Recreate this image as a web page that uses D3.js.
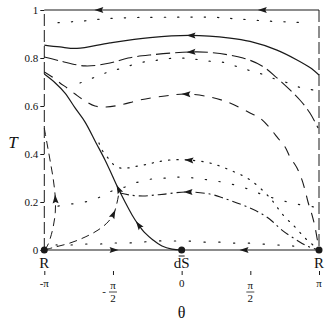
<!DOCTYPE html>
<html>
<head>
<meta charset="utf-8">
<script src="https://cdn.jsdelivr.net/npm/d3@7"></script>
<style>
  body { margin: 0; background: #fff; }
  text { font-family: "Liberation Serif", "Times New Roman", serif; fill: #111; }
</style>
</head>
<body>
<svg id="chart" width="327" height="327"></svg>
<script>
// theta values are in units of pi, T is the vertical variable
const thetaTicks = [-1, -0.5, 0, 0.5, 1];
const tTicks = [0, 0.2, 0.4, 0.6, 0.8, 1];
const tTickLabels = ["0", "0.2", "0.4", "0.6", "0.8", "1"];

const topEdge = [[-1, 1], [-0.61, 1], [0.58, 1], [1, 1]];
const bottomEdge = [[-1, 0], [-0.485, 0], [0, 0], [0.447, 0], [1, 0]];
const leftEdge = [[-1, 0], [-1, 1]];
const rightEdge = [[1, 1], [1, 0]];

const topDotted = [[-0.90, 0.947], [-0.798, 0.951], [-0.703, 0.955], [-0.609, 0.961], [-0.522, 0.965],
  [-0.303, 0.969], [-0.012, 0.97], [0.221, 0.97], [0.410, 0.9625], [0.621, 0.954], [0.825, 0.949], [0.920, 0.945]];

const solidUpper = [[-1, 0.854], [-0.886, 0.846], [-0.762, 0.840], [-0.522, 0.863], [-0.230, 0.885],
  [0.061, 0.894], [0.352, 0.883], [0.498, 0.869], [0.694, 0.833], [0.840, 0.792], [0.934, 0.760], [1, 0.729]];

const dashedUpper = [[-1, 0.804], [-0.886, 0.788], [-0.703, 0.767], [-0.522, 0.779], [-0.390, 0.8],
  [-0.230, 0.8125], [0.061, 0.825], [0.206, 0.823], [0.447, 0.8], [0.585, 0.767], [0.694, 0.717],
  [0.789, 0.667], [0.861, 0.625], [0.934, 0.571], [0.993, 0.508]];

const dottedMid = [[-0.740, 0.696], [-0.703, 0.704], [-0.609, 0.725], [-0.514, 0.746], [-0.427, 0.758],
  [-0.318, 0.779], [-0.216, 0.7875], [-0.121, 0.796], [-0.012, 0.8], [0.083, 0.796], [0.185, 0.7875],
  [0.294, 0.783], [0.388, 0.767], [0.483, 0.75], [0.585, 0.733], [0.680, 0.7125], [0.774, 0.696],
  [0.876, 0.675], [0.956, 0.667]];

const dashedLower = [[-1, 0.742], [-0.942, 0.721], [-0.886, 0.696], [-0.834, 0.675], [-0.776, 0.65],
  [-0.703, 0.621], [-0.631, 0.6], [-0.551, 0.596], [-0.449, 0.604], [-0.303, 0.625], [-0.121, 0.642],
  [0.024, 0.65], [0.206, 0.6375], [0.352, 0.6125], [0.498, 0.571], [0.570, 0.55], [0.643, 0.508],
  [0.694, 0.471], [0.753, 0.429], [0.789, 0.3875], [0.840, 0.342], [0.876, 0.292], [0.898, 0.25],
  [0.920, 0.2], [0.949, 0.146], [0.971, 0.096], [1, 0]];

const separatrix = [[-1, 0.733], [-0.920, 0.696], [-0.849, 0.654], [-0.776, 0.592], [-0.703, 0.533],
  [-0.623, 0.446], [-0.558, 0.375], [-0.507, 0.3125], [-0.463, 0.258], [-0.412, 0.2], [-0.361, 0.146],
  [-0.318, 0.108], [-0.267, 0.071], [-0.209, 0.042], [-0.143, 0.017], [-0.070, 0.004], [0, 0]];

const dottedNear = [[-0.602, 0.446], [-0.580, 0.417], [-0.536, 0.383], [-0.500, 0.358], [-0.449, 0.342],
  [-0.390, 0.342], [-0.318, 0.35], [-0.245, 0.358], [-0.179, 0.367], [-0.085, 0.375], [0.046, 0.375],
  [0.206, 0.3625], [0.352, 0.333], [0.498, 0.292], [0.643, 0.217], [0.738, 0.146], [0.825, 0.096],
  [0.891, 0.054], [0.956, 0.021], [1, 0]];

const dottedLow = [[-0.900, 0.183], [-0.798, 0.192], [-0.703, 0.2], [-0.609, 0.217], [-0.507, 0.246],
  [-0.412, 0.2625], [-0.318, 0.283], [-0.216, 0.296], [-0.114, 0.3], [-0.012, 0.304], [0.090, 0.3],
  [0.192, 0.292], [0.294, 0.283], [0.388, 0.271], [0.483, 0.254], [0.578, 0.233], [0.665, 0.217],
  [0.774, 0.2], [0.876, 0.1875], [0.971, 0.179]];

const dashDot = [[-0.449, 0.2375], [-0.376, 0.229], [-0.281, 0.225], [-0.194, 0.229], [-0.121, 0.233],
  [0.039, 0.242], [0.206, 0.233], [0.301, 0.217], [0.403, 0.196], [0.498, 0.175], [0.585, 0.15],
  [0.657, 0.121], [0.730, 0.083], [0.825, 0.046], [0.912, 0.017], [1, 0]];

const dottedBottom = [[-0.914, 0.021], [-0.798, 0.021], [-0.689, 0.025], [-0.594, 0.025], [-0.500, 0.029],
  [-0.390, 0.029], [-0.289, 0.033], [-0.179, 0.0375], [-0.070, 0.0375], [0.039, 0.0375], [0.148, 0.033],
  [0.258, 0.033], [0.367, 0.029], [0.476, 0.029], [0.585, 0.025], [0.694, 0.021], [0.804, 0.017], [0.898, 0.008]];

const leftLoop = [[-1, 0.508], [-0.978, 0.4375], [-0.956, 0.367], [-0.934, 0.292], [-0.920, 0.217],
  [-0.920, 0.158], [-0.934, 0.1], [-0.956, 0.05], [-0.978, 0.017], [-1, 0]];

const leftRise = [[-1, 0], [-0.920, 0.0125], [-0.813, 0.029], [-0.703, 0.054], [-0.609, 0.083],
  [-0.536, 0.117], [-0.493, 0.154], [-0.471, 0.196], [-0.458, 0.233]];

const fixedPoints = [[-1, 0, "R"], [0, 0, "dS"], [1, 0, "R"]];

const xScale = d3.scaleLinear().domain([-1, 1]).range([44.3, 319]);
const yScale = d3.scaleLinear().domain([0, 1]).range([250, 10]);

const svg = d3.select("#chart");
const ink = "#1a1a1a";

// curves: data, dash, width, arrows [index, direction]
const curves = [
  { data: leftEdge, dash: "12,4", w: 1 },
  { data: rightEdge, dash: "12,4", w: 1 },
  { data: topEdge, dash: null, w: 1.2, arrows: [[1, -1], [2, -1]] },
  { data: bottomEdge, dash: null, w: 1.2, arrows: [[1, 1], [3, -1]] },
  { data: topDotted, dash: "1.3,12", w: 1.2 },
  { data: solidUpper, dash: null, w: 1.2, arrows: [[5, -1]] },
  { data: dashedUpper, dash: "14,5", w: 1.1, arrows: [[6, -1]] },
  { data: dottedMid, dash: "1.3,12", w: 1.2 },
  { data: dashedLower, dash: "10,8", w: 1.1, arrows: [[11, -1]] },
  { data: separatrix, dash: null, w: 1.2, arrows: [[8, -1], [11, -1]] },
  { data: dottedNear, dash: "1.3,7", w: 1.2, arrows: [[10, -1]] },
  { data: dottedLow, dash: "1.3,12.5", w: 1.2 },
  { data: dashDot, dash: "9,4,2,4", w: 1.1, arrows: [[5, -1]] },
  { data: dottedBottom, dash: "1.3,13.5", w: 1.2 },
  { data: leftLoop, dash: "8,5", w: 1, arrows: [[4, -1]] },
  { data: leftRise, dash: "8,5", w: 1, arrows: [[6, 1]] }
];

const line = d3.line()
  .x(d => xScale(d[0]))
  .y(d => yScale(d[1]))
  .curve(d3.curveCatmullRom.alpha(0.5));

const gCurves = svg.append("g");
curves.forEach(c => {
  gCurves.append("path")
    .attr("d", line(c.data))
    .attr("fill", "none")
    .attr("stroke", ink)
    .attr("stroke-width", c.w)
    .attr("stroke-dasharray", c.dash)
    .attr("stroke-linecap", c.dash && c.dash.startsWith("1.3") ? "round" : "butt");
});

// arrowheads along the curves
const gArrows = svg.append("g");
curves.forEach(c => {
  (c.arrows || []).forEach(([i, dir]) => {
    const p = c.data[i];
    const a = c.data[Math.max(i - 1, 0)];
    const b = c.data[Math.min(i + 1, c.data.length - 1)];
    const dx = (xScale(b[0]) - xScale(a[0])) * dir;
    const dy = (yScale(b[1]) - yScale(a[1])) * dir;
    const ang = Math.atan2(dy, dx) * 180 / Math.PI;
    gArrows.append("path")
      .attr("d", "M3.5,0 L-5.5,-3 L-4,0 L-5.5,3 Z")
      .attr("fill", ink)
      .attr("transform", `translate(${xScale(p[0])},${yScale(p[1])}) rotate(${ang})`);
  });
});

// fixed points
svg.append("g").selectAll("circle")
  .data(fixedPoints)
  .join("circle")
  .attr("cx", d => xScale(d[0]))
  .attr("cy", d => yScale(d[1]))
  .attr("r", 3.5)
  .attr("fill", ink);

svg.append("g").selectAll("text")
  .data(fixedPoints)
  .join("text")
  .attr("x", d => xScale(d[0]))
  .attr("y", yScale(0) + 18)
  .attr("text-anchor", "middle")
  .attr("font-size", 15)
  .text(d => d[2]);
// bar over dS
svg.append("line")
  .attr("x1", xScale(0) - 3).attr("x2", xScale(0) + 3)
  .attr("y1", yScale(0) + 6).attr("y2", yScale(0) + 6)
  .attr("stroke", ink).attr("stroke-width", 1);

// y axis
const yAxis = d3.axisLeft(yScale)
  .tickValues(tTicks)
  .tickFormat((d, i) => tTickLabels[i])
  .tickSize(4)
  .tickPadding(2);
const gy = svg.append("g").attr("transform", `translate(${xScale(-1)},0)`).call(yAxis);
gy.select(".domain").remove();
gy.selectAll("line").attr("stroke", ink);
gy.selectAll("text").attr("font-size", 11);

// x axis (ticks only, labels drawn as fractions)
const xAxis = d3.axisBottom(xScale).tickValues(thetaTicks).tickSize(4).tickFormat("");
const gx = svg.append("g").attr("transform", "translate(0,271)").call(xAxis);
gx.select(".domain").remove();
gx.selectAll("line").attr("stroke", ink);

const xLab = svg.append("g").attr("font-size", 11);
thetaTicks.forEach(t => {
  const x = xScale(t);
  if (Math.abs(t) === 0.5) {
    const g = xLab.append("g").attr("transform", `translate(${x},0)`);
    g.append("text").attr("x", 0).attr("y", 289).attr("text-anchor", "middle").text("π");
    g.append("line").attr("x1", -4).attr("x2", 4).attr("y1", 292).attr("y2", 292)
      .attr("stroke", ink).attr("stroke-width", 0.8);
    g.append("text").attr("x", 0).attr("y", 302).attr("text-anchor", "middle").text("2");
    if (t < 0) g.append("text").attr("x", -9).attr("y", 295).attr("text-anchor", "middle").text("-");
  } else {
    const s = t === 0 ? "0" : (t < 0 ? "-π" : "π");
    xLab.append("text").attr("x", x).attr("y", 287).attr("text-anchor", "middle").text(s);
  }
});

svg.append("text").attr("x", 13).attr("y", 148).attr("text-anchor", "middle")
  .attr("font-size", 17).attr("font-style", "italic").text("T");
svg.append("text").attr("x", xScale(0)).attr("y", 318).attr("text-anchor", "middle")
  .attr("font-size", 16).text("θ");
</script>
</body>
</html>
